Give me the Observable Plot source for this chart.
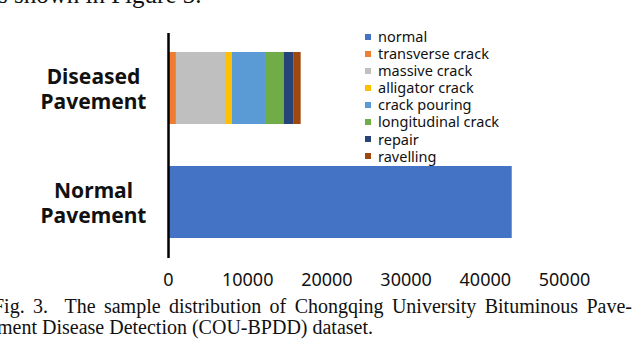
<!DOCTYPE html>
<html>
<head>
<meta charset="utf-8">
<script src="https://cdn.jsdelivr.net/npm/d3@7"></script>
<script src="https://cdn.jsdelivr.net/npm/@observablehq/plot@0.6"></script>
<style>
  html, body { margin: 0; padding: 0; background: #fff; }
  #wrap { position: relative; width: 640px; height: 350px; overflow: hidden; }
  #chart { position: absolute; left: 0; top: 0; }
  .serif { position: absolute; font-family: "Liberation Serif", "DejaVu Serif", serif; color: #111; white-space: nowrap; line-height: 1.15; }
  #legend { position: absolute; left: 365px; top: 28px; font-family: "Noto Sans", sans-serif; font-size: 14.5px; color: #111; }
  #legend .row { height: 17.1px; line-height: 17.1px; display: flex; align-items: center; }
  #legend .sw { width: 6px; height: 6px; margin-right: 7px; }
</style>
</head>
<body>
<div id="wrap">
  <div id="chart"></div>
  <div id="legend"></div>
  <div class="serif" id="top" style="left:-2px; top:-19px; font-size:25px;">s shown in Figure 3.</div>
  <div class="serif" id="cap1" style="left:-7px; top:295px; font-size:20px; width:639px; text-align:justify; text-align-last:justify;">Fig. 3.&nbsp; The sample distribution of Chongqing University Bituminous Pave-</div>
  <div class="serif" id="cap2" style="left:-3px; top:316px; font-size:20px;">ment Disease Detection (COU-BPDD) dataset.</div>
</div>
<script>
const categories = ["Diseased Pavement", "Normal Pavement"];
const categoryLabels = ["Diseased\nPavement", "Normal\nPavement"];
const types = ["normal", "transverse crack", "massive crack", "alligator crack", "crack pouring", "longitudinal crack", "repair", "ravelling"];
const colors = ["#4472C4", "#ED7D31", "#BFBFBF", "#FFC000", "#5B9BD5", "#70AD47", "#264478", "#9E480E"];
const normalValues = [43400, 0, 0, 0, 0, 0, 0, 0];
const diseasedValues = [0, 1000, 6200, 850, 4200, 2350, 1200, 950];
const xTicks = [0, 10000, 20000, 30000, 40000, 50000];

const data = [];
types.forEach((t, i) => {
  if (diseasedValues[i] > 0) data.push({cat: categories[0], type: t, value: diseasedValues[i]});
  if (normalValues[i] > 0) data.push({cat: categories[1], type: t, value: normalValues[i]});
});

const chart = Plot.plot({
  width: 640,
  height: 350,
  marginLeft: 168,
  marginRight: 76,
  marginTop: 33,
  marginBottom: 92,
  style: {fontFamily: "Noto Sans, sans-serif", fontSize: "18px", color: "#111", background: "transparent"},
  x: {domain: [0, 50000], axis: null, label: null},
  y: {domain: categories, paddingInner: 0.366, paddingOuter: 0.167, axis: null, label: null},
  color: {domain: types, range: colors},
  marks: [
    Plot.barX(data, Plot.stackX({x: "value", y: "cat", fill: "type"})),
    Plot.ruleX([0], {stroke: "#000", strokeWidth: 2.5}),
    Plot.axisX({ticks: xTicks, tickSize: 0, tickPadding: 15, tickFormat: d => String(d), fill: "#111", fontSize: 18, label: null}),
    Plot.text(categories, {
      y: d => d,
      text: d => categoryLabels[categories.indexOf(d)],
      frameAnchor: "left",
      dx: -75,
      textAnchor: "middle",
      lineAnchor: "middle",
      lineHeight: 1.2,
      fontSize: 21,
      fontWeight: "bold",
      fill: "#111"
    })
  ]
});
document.getElementById("chart").appendChild(chart);

const legend = document.getElementById("legend");
types.forEach((t, i) => {
  const row = document.createElement("div");
  row.className = "row";
  const sw = document.createElement("span");
  sw.className = "sw";
  sw.style.background = colors[i];
  const lab = document.createElement("span");
  lab.textContent = t;
  row.appendChild(sw);
  row.appendChild(lab);
  legend.appendChild(row);
});
</script>
</body>
</html>
